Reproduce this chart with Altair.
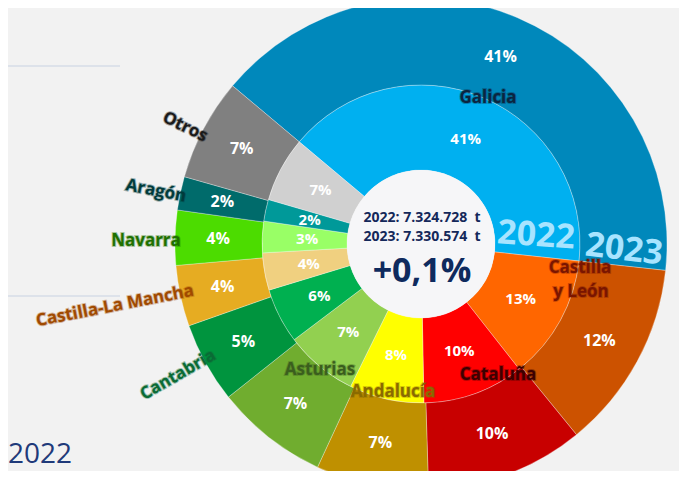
import math
import altair as alt
import pandas as pd

# ---------------- data ----------------
regions = ["Galicia", "Castilla y León", "Cataluña", "Andalucía", "Asturias",
           "Cantabria", "Castilla-La Mancha", "Navarra", "Aragón", "Otros"]
share_2022 = [40.6, 12.7, 10.3, 7.6, 7.4, 5.6, 3.8, 3.2, 2.2, 6.6]
share_2023 = [40.6, 12.4, 10.4, 7.4, 7.4, 5.3, 4.0, 3.6, 2.2, 6.7]
total_2022 = "2022: 7.324.728\u00a0 t"
total_2023 = "2023: 7.330.574\u00a0 t"
change_txt = "+0,1%"

# ---------------- styles ----------------
colors_2022 = ["#00b0f0", "#ff6600", "#ff0000", "#ffff00", "#92d050",
               "#00b050", "#f0d080", "#99ff66", "#009999", "#d0d0d0"]
colors_2023 = ["#0088bb", "#cc5200", "#c80000", "#bf9000", "#70ad2f",
               "#00943e", "#e6ac22", "#4cdc00", "#006b6b", "#808080"]
label_colors = ["#0b2540", "#7a1500", "#3d0000", "#8a6a00", "#3b5e1e",
                "#0a6b35", "#a04a00", "#1e7000", "#003b3b", "#1a1a1a"]

FONT = "Open Sans"
CX, CY = 413, 236
R_HOLE, R_MID, R_OUT = 74, 159, 246
START = math.radians(-50) + 2 * math.pi
theta_scale = alt.Scale(domain=[0, 100], range=[START, START + 2 * math.pi])

df22 = pd.DataFrame({"region": regions, "share": share_2022,
                     "idx": list(range(len(regions))), "colour": colors_2022})
df23 = pd.DataFrame({"region": regions, "share": share_2023,
                     "idx": list(range(len(regions))), "colour": colors_2023})


def ring(df, r_in, r_out, r_lab, size):
    base = alt.Chart(df).encode(
        theta=alt.Theta("share:Q", stack=True, scale=theta_scale),
        order=alt.Order("idx:Q", sort="ascending"),
    )
    arcs = base.mark_arc(x=CX, y=CY, radius=r_out, radius2=r_in,
                         stroke="#ffffff", strokeWidth=0.6, strokeOpacity=0.5).encode(
        color=alt.Color("colour:N", scale=None)
    )
    txt = base.transform_calculate(
        lab="format(datum.share, '.0f') + '%'"
    ).mark_text(x=CX, y=CY, radius=r_lab, font=FONT, fontWeight="bold",
                fontSize=size, color="white").encode(text="lab:N")
    return arcs + txt


hole = alt.Chart(pd.DataFrame({"v": [1]})).mark_arc(
    x=CX, y=CY, radius=R_HOLE, fill="#f6f6f8"
).encode(theta=alt.value(2 * math.pi))


def label(text, x, y, colour, size=17, angle=0, glow=True, align="center"):
    props = dict(x=x, y=y, font=FONT, fontWeight="bold", fontSize=size,
                 color=colour, align=align, baseline="middle")
    if angle:
        props["angle"] = angle % 360
    if glow:
        props.update(stroke=colour, strokeWidth=2, strokeOpacity=0.35)
    return alt.Chart(pd.DataFrame({"t": [text]})).mark_text(**props).encode(text="t:N")


layers = [ring(df22, R_HOLE, R_MID, 114, 15), ring(df23, R_MID, R_OUT, 203, 16), hole]

# region names
layers += [
    label(regions[0], 480, 90, label_colors[0]),
    label("Castilla", 572, 260, label_colors[1]),
    label("y León", 573, 284, label_colors[1]),
    label(regions[2], 490, 367, label_colors[2]),
    label(regions[3], 385, 384, label_colors[3]),
    label(regions[4], 312, 362, label_colors[4]),
    label(regions[5], 170, 367, label_colors[5], angle=-30),
    label(regions[6], 107, 298, label_colors[6], angle=-11),
    label(regions[7], 138, 233, label_colors[7]),
    label(regions[8], 148, 183, label_colors[8], angle=11),
    label(regions[9], 177, 119, label_colors[9], angle=26),
]

# year labels on the rings
layers += [
    label("2022", 528, 228, "#a8e4ff", size=34, angle=4, glow=False),
    label("2023", 616, 242, "#a8e4ff", size=34, angle=7, glow=False),
]

# centre texts
layers += [
    label(total_2022, 414, 210, "#14285a", size=14, glow=False),
    label(total_2023, 414, 229, "#14285a", size=14, glow=False),
    label(change_txt, 414, 264, "#0e2a5e", size=34, glow=False),
]

# page decorations
deco_rules = alt.Chart(pd.DataFrame({"y": [58]})).mark_rule(
    color="#c8d2e2", strokeWidth=1
).encode(x=alt.value(0), x2=alt.value(112), y=alt.value(58))
deco_rules2 = alt.Chart(pd.DataFrame({"y": [288]})).mark_rule(
    color="#c8d2e2", strokeWidth=1
).encode(x=alt.value(0), x2=alt.value(112), y=alt.value(288))
year_txt = alt.Chart(pd.DataFrame({"t": ["2022"]})).mark_text(
    x=0, y=455, align="left", baseline="alphabetic", font=FONT,
    fontSize=28, color="#1f3a7a"
).encode(text="t:N")
layers += [deco_rules, deco_rules2, year_txt]

chart = alt.layer(*layers).properties(
    width=671, height=463, padding=0, autosize="none",
    background="#f2f2f2"
).configure_view(stroke=None)

chart.save("out.html", embed_options={"renderer": "svg", "actions": False})
